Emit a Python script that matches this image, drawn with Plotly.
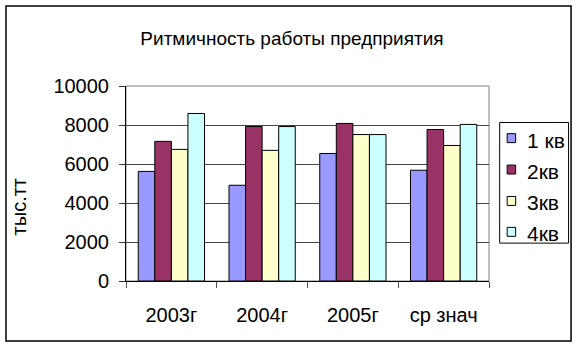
import plotly.graph_objects as go

categories = ["2003г", "2004г", "2005г", "ср знач"]
series_names = ["1 кв", "2кв", "3кв", "4кв"]
q1 = [5620, 4910, 6540, 5680]
q2 = [7160, 7920, 8080, 7770]
q3 = [6750, 6700, 7510, 6950]
q4 = [8590, 7920, 7510, 8030]
series_values = [q1, q2, q3, q4]
colors = ["#9999FF", "#993366", "#FFFFCC", "#CCFFFF"]
y_ticks = [0, 2000, 4000, 6000, 8000, 10000]
y_ticktext = ["0", "2000", "4000", "6000", "8000", "10000"]

W, H = 578, 347
L, R, T, B = 125.7, 489.3, 85.7, 281.3
FONT = "Liberation Sans, Arial, sans-serif"

def px(x):
    return (x - L) / (R - L)

def py(y):
    return (B - y) / (B - T)

fig = go.Figure()
for name, vals, col in zip(series_names, series_values, colors):
    fig.add_trace(go.Bar(
        x=categories, y=vals, name=name,
        marker=dict(color=col, line=dict(color="black", width=1)),
    ))

# custom legend (box, swatches, labels) built from the series lists
leg_left, leg_right, leg_top, leg_bot = 500, 569, 122.3, 243.3
item_y = [138, 169.5, 201, 232]
shapes = [
    dict(type="rect", xref="paper", yref="paper",
         x0=0, x1=1, y0=0, y1=1,
         line=dict(color="#808080", width=1), layer="below"),
    dict(type="rect", xref="paper", yref="paper",
         x0=px(5.5), x1=px(571.5), y0=py(5.5), y1=py(341.5),
         line=dict(color="black", width=1.5)),
    dict(type="rect", xref="paper", yref="paper",
         x0=px(leg_left), x1=px(leg_right), y0=py(leg_top), y1=py(leg_bot),
         line=dict(color="black", width=1), fillcolor="white"),
]
annotations = [dict(text="тыс.тт", textangle=-90, showarrow=False,
                    xref="paper", yref="paper", x=px(18), y=py(207),
                    xanchor="center", yanchor="middle",
                    font=dict(size=20))]
for name, col, yc in zip(series_names, colors, item_y):
    shapes.append(dict(type="rect", xref="paper", yref="paper",
                       x0=px(507.5), x1=px(516), y0=py(yc - 4.5), y1=py(yc + 4.5),
                       line=dict(color="black", width=1), fillcolor=col))
    annotations.append(dict(text=name, showarrow=False, xref="paper", yref="paper",
                            x=px(525), y=py(yc + 2), xanchor="left", yanchor="middle",
                            font=dict(size=21)))

fig.update_layout(
    width=W, height=H,
    margin=dict(l=L, r=W - R, t=T, b=H - B, pad=0),
    paper_bgcolor="white", plot_bgcolor="white",
    barmode="group", bargap=0.27, bargroupgap=0,
    font=dict(family=FONT, size=20, color="black"),
    title=dict(text="Ритмичность работы предприятия",
               x=292 / W, xref="container", xanchor="center",
               y=1 - 38 / H, yanchor="middle",
               font=dict(size=19)),
    showlegend=False,
    xaxis=dict(showline=True, linecolor="black", linewidth=1,
               ticks="outside", ticklen=6, tickcolor="#555",
               tickson="boundaries", showgrid=False,
               ticklabelstandoff=16, tickfont=dict(size=20)),
    yaxis=dict(range=[0, 10000], tickvals=y_ticks, ticktext=y_ticktext,
               showline=True, linecolor="black", linewidth=1,
               ticks="outside", ticklen=6, tickcolor="#333",
               showgrid=True, gridcolor="#444", gridwidth=1,
               zeroline=False, ticklabelstandoff=6,
               tickfont=dict(size=20)),
    annotations=annotations,
    shapes=shapes,
)

fig.write_html("out.html")
